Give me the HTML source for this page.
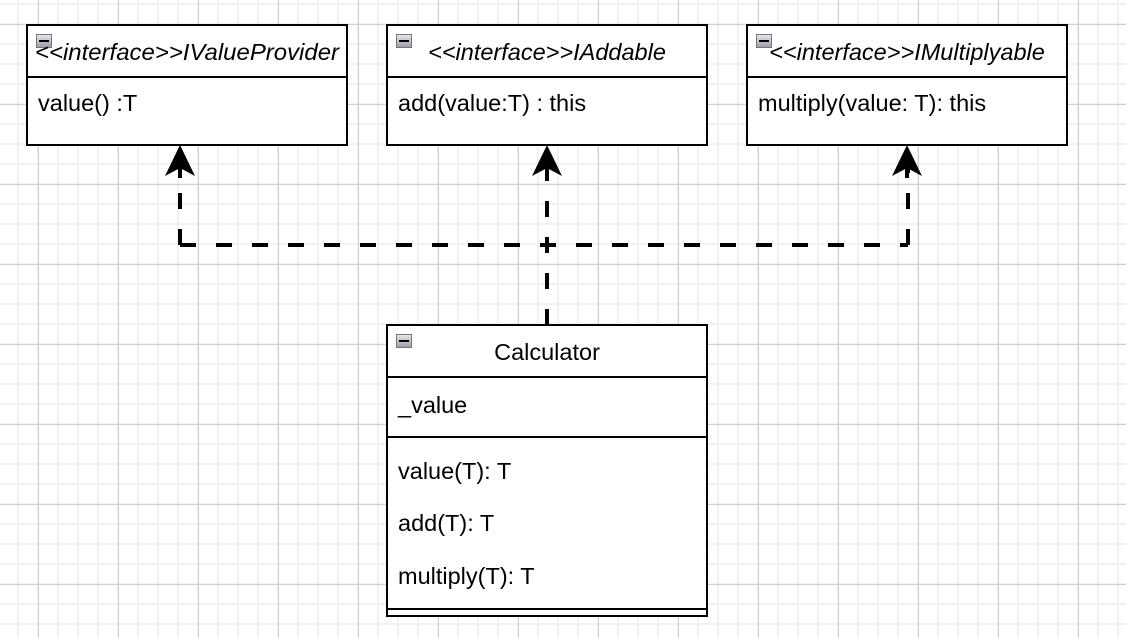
<!DOCTYPE html>
<html><head><meta charset="utf-8"><style>
html,body{margin:0;padding:0;background:#fff;}
svg{display:block;}
text{font-family:"Liberation Sans",Arial,sans-serif;font-size:23.5px;fill:#000;}
</style></head><body>
<svg width="1126" height="638" viewBox="0 0 1126 638" xmlns="http://www.w3.org/2000/svg">
<defs>
<pattern id="minor" x="-3" y="3" width="20" height="20" patternUnits="userSpaceOnUse">
<path d="M0 1H20M1 0V20" stroke="#f1f1f1" stroke-width="2" fill="none"/>
</pattern>
<pattern id="major" x="38" y="24" width="80" height="80" patternUnits="userSpaceOnUse">
<path d="M0 0.5H80M0.5 0V80" stroke="#d0d0d0" stroke-width="1" fill="none"/>
</pattern>
<linearGradient id="ig" x1="0" y1="0" x2="0" y2="1"><stop offset="0" stop-color="#e8e8ee"/><stop offset="1" stop-color="#9a9aa6"/></linearGradient>
<g id="icon"><rect x="0.5" y="0.5" width="15" height="13" fill="url(#ig)" stroke="#777"/><rect x="3" y="6" width="10" height="2" fill="#000"/></g>
</defs>
<rect width="1126" height="638" fill="url(#minor)"/>
<rect width="1126" height="638" fill="url(#major)"/>

<g stroke="#000" stroke-width="4" fill="none" stroke-dasharray="16 20">
<path d="M180 245H908"/>
<path d="M180 245V168"/>
<path d="M908 245V168"/>
<path d="M547 325V168"/>
</g>
<g fill="#000">
<path d="M180 145L195 176L180 168L165 176Z"/>
<path d="M547 145L562 176L547 168L532 176Z"/>
<path d="M907 145L922 176L907 168L892 176Z"/>
<rect x="178" y="166" width="4" height="12"/>
<rect x="545" y="166" width="4" height="12"/>
<rect x="905" y="166" width="4" height="12"/>
</g>

<g stroke="#000" stroke-width="2" fill="#fff">
<rect x="27" y="25" width="320" height="120"/><line x1="27" y1="77" x2="347" y2="77"/>
<rect x="387" y="25" width="320" height="120"/><line x1="387" y1="77" x2="707" y2="77"/>
<rect x="747" y="25" width="320" height="120"/><line x1="747" y1="77" x2="1067" y2="77"/>
</g>
<use href="#icon" x="36" y="34"/>
<use href="#icon" x="396" y="34"/>
<use href="#icon" x="756" y="34"/>
<text x="187" y="60" text-anchor="middle" font-style="italic" textLength="304" lengthAdjust="spacingAndGlyphs">&lt;&lt;interface&gt;&gt;IValueProvider</text>
<text x="547" y="60" text-anchor="middle" font-style="italic">&lt;&lt;interface&gt;&gt;IAddable</text>
<text x="907" y="60" text-anchor="middle" font-style="italic">&lt;&lt;interface&gt;&gt;IMultiplyable</text>
<text x="38" y="111">value() :T</text>
<text x="398" y="111">add(value:T) : this</text>
<text x="758" y="111">multiply(value: T): this</text>

<g stroke="#000" stroke-width="2" fill="#fff">
<rect x="387" y="325" width="320" height="291"/>
<line x1="387" y1="377" x2="707" y2="377"/>
<line x1="387" y1="437" x2="707" y2="437"/>
<line x1="387" y1="609" x2="707" y2="609"/>
</g>
<use href="#icon" x="396" y="334"/>
<text x="547" y="360" text-anchor="middle">Calculator</text>
<text x="398" y="413">_value</text>
<text x="398" y="479">value(T): T</text>
<text x="398" y="531">add(T): T</text>
<text x="398" y="584">multiply(T): T</text>
</svg>
</body></html>
